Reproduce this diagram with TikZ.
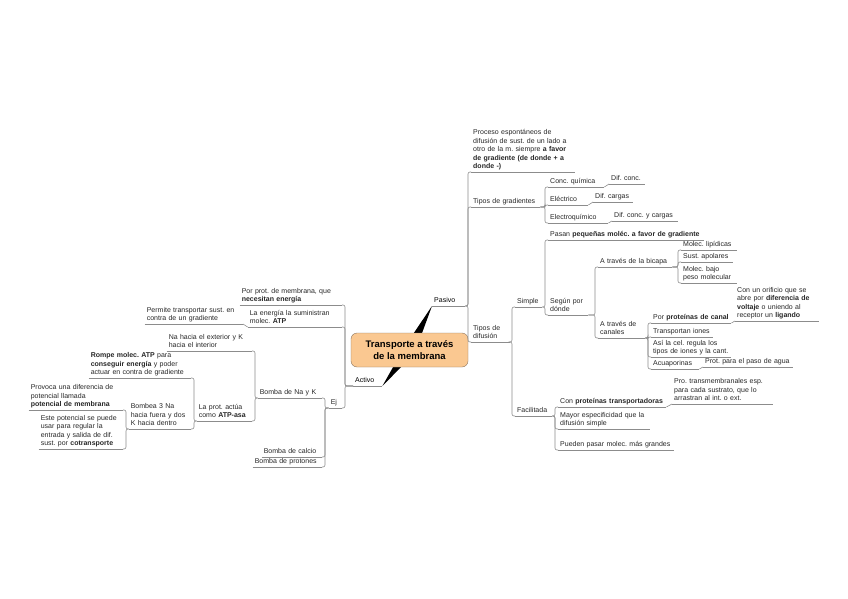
\documentclass[tikz,border=0pt]{standalone}
\usepackage{fontspec}
\setmainfont{Liberation Sans}
\usetikzlibrary{calc}
\definecolor{linegray}{HTML}{8C8C8C}
\definecolor{textgray}{HTML}{262626}
\definecolor{rootfill}{HTML}{FAC891}
\definecolor{rootline}{HTML}{8A7560}
\frenchspacing

\begin{document}
\begin{tikzpicture}[
  x=1pt, y=-1pt,
  topic/.style={anchor=south west, inner xsep=2pt, inner ysep=0.8pt, execute at end node={\strut},
                align=left, font=\fontsize{7}{8.4}\selectfont, text=textgray},
  ltopic/.style={topic, anchor=south east},
  root/.style={rectangle, rounded corners=6pt, draw=rootline, fill=rootfill, thin,
               minimum width=117pt, minimum height=34pt, align=center,
               font=\fontsize{9.5}{11.5}\selectfont\bfseries, text=black},
  link/.style={draw=linegray, line width=0.6pt, rounded corners=2pt},
  wedge/.style={fill=black}
]
  \useasboundingbox (0,0) rectangle (848,599);

  \node[topic, text width=29pt, text=black] (pasivo) at (432,306) {Pasivo};
  \node[topic, text width=25pt, text=black] (activo) at (353,386) {Activo};

  \fill[wedge] ($(409.5,350)+(-5.3,-2.7)$) -- ($(409.5,350)+(5.3,2.7)$) -- (pasivo.south west) -- cycle;
  \fill[wedge] ($(409.5,350)+(-4.8,-3.6)$) -- ($(409.5,350)+(4.8,3.6)$) -- (activo.south east) -- cycle;
  \node[root] (root) at (409.5,350) {Transporte a través\\de la membrana};

  \node[topic, text width=100pt] (proc) at (471,172) {Proceso espontáneos de\\difusión de sust. de un lado a\\otro de la m. siempre \textbf{a favor}\\\textbf{de gradiente (de donde + a}\\\textbf{donde -)}};
  \node[topic, text width=65pt] (tgrad) at (471,207) {Tipos de gradientes};
  \node[topic, text width=35pt] (tdif) at (471,342) {Tipos de\\difusión};

  \node[topic, text width=52pt] (concq) at (548,187) {Conc. química};
  \node[topic, text width=36pt] (elec) at (548,205) {Eléctrico};
  \node[topic, text width=56pt] (electroq) at (548,223) {Electroquímico};
  \node[topic, text width=32pt] (difconc) at (609,184) {Dif. conc.};
  \node[topic, text width=36pt] (difcarg) at (593,202) {Dif. cargas};
  \node[topic, text width=62pt] (difcc) at (612,221) {Dif. conc. y cargas};

  \node[topic, text width=23pt] (simple) at (515,307) {Simple};
  \node[topic, text width=33pt] (facil) at (515,416) {Facilitada};

  \node[topic, text width=152pt] (pasan) at (548,240) {Pasan \textbf{pequeñas moléc. a favor de gradiente}};
  \node[topic, text width=36pt] (segun) at (548,315) {Según por\\dónde};

  \node[topic, text width=70pt] (bicapa) at (598,267) {A través de la bicapa};
  \node[topic, text width=43pt] (canales) at (598,338) {A través de\\canales};

  \node[topic, text width=52pt] (lipid) at (681,250) {Molec. lipídicas};
  \node[topic, text width=48pt] (apol) at (681,262) {Sust. apolares};
  \node[topic, text width=52pt] (bajo) at (681,283) {Molec. bajo\\peso molecular};

  \node[topic, text width=76pt] (porprot) at (651,323) {Por \textbf{proteínas de canal}};
  \node[topic, text width=58pt] (transp) at (651,337) {Transportan iones};
  \node[topic, text width=76pt] (asi) at (651,357) {Así la cel. regula los\\tipos de iones y la cant.};
  \node[topic, text width=44pt] (acua) at (651,369) {Acuaporinas};
  \node[topic, text width=80pt] (orificio) at (735,321) {Con un orificio que se\\abre por \textbf{diferencia de}\\\textbf{voltaje} o uniendo al\\receptor un \textbf{ligando}};
  \node[topic, text width=86pt] (protagua) at (703,367) {Prot. para el paso de agua};

  \node[topic, text width=104pt] (conprot) at (558,407) {Con \textbf{proteínas transportadoras}};
  \node[topic, text width=88pt] (mayor) at (558,429) {Mayor especificidad que la\\difusión simple};
  \node[topic, text width=112pt] (pueden) at (558,450) {Pueden pasar molec. más grandes};
  \node[topic, text width=97pt] (transmem) at (672,404) {Pro. transmembranales esp.\\para cada sustrato, que lo\\arrastran al int. o ext.};

  \node[ltopic, text width=98pt] (necesitan) at (342,305) {Por prot. de membrana, que\\\textbf{necesitan energía}};
  \node[ltopic, text width=90pt] (energia) at (342,327) {La energía la suministran\\molec. \textbf{ATP}};
  \node[ltopic, text width=94pt] (permite) at (243,324) {Permite transportar sust. en\\contra de un gradiente};
  \node[ltopic, text width=9pt] (ej) at (342,408) {Ej};

  \node[ltopic, text width=60pt] (nak) at (322,398) {Bomba de Na y K};
  \node[ltopic, text width=56pt] (calcio) at (322,457) {Bomba de calcio};
  \node[ltopic, text width=65pt] (protones) at (322,467) {Bomba de protones};

  \node[ltopic, text width=81pt] (naext) at (252,351) {Na hacia el exterior y K\\hacia el interior};
  \node[ltopic, text width=51pt] (atpasa) at (252,421) {La prot. actúa\\como \textbf{ATP-asa}};
  \node[ltopic, text width=98pt] (rompe) at (191,378) {\textbf{Rompe molec. ATP} para\\\textbf{conseguir energía} y poder\\actuar en contra de gradiente};
  \node[ltopic, text width=58pt] (bombea) at (191,429) {Bombea 3 Na\\hacia fuera y dos\\K hacia dentro};
  \node[ltopic, text width=90pt] (provoca) at (123,410) {Provoca una diferencia de\\potencial llamada\\\textbf{potencial de membrana}};
  \node[ltopic, text width=80pt] (este) at (123,449) {Este potencial se puede\\usar para regular la\\entrada y salida de dif.\\sust. por \textbf{cotransporte}};

  \foreach \n in {pasivo, activo, proc, tgrad, tdif, concq, elec, electroq, difconc, difcarg, difcc,
                  simple, facil, pasan, segun, bicapa, canales, lipid, apol, bajo, porprot, transp,
                  asi, acua, orificio, protagua, conprot, mayor, pueden, transmem, necesitan,
                  energia, permite, ej, nak, calcio, protones, naext, atpasa, rompe, bombea,
                  provoca, este}
    \draw[link] (\n.south west) -- (\n.south east);

  \foreach \pa/\ch in {pasivo/proc, pasivo/tgrad, pasivo/tdif, tgrad/concq, tgrad/elec, tgrad/electroq,
                       tdif/simple, tdif/facil, simple/pasan, simple/segun, segun/bicapa, segun/canales,
                       bicapa/lipid, bicapa/apol, bicapa/bajo, canales/porprot, canales/transp,
                       canales/asi, canales/acua, facil/conprot, facil/mayor, facil/pueden}
    \draw[link] (\pa.south east) -| ($(\ch.south west)+(-3,0)$) -- (\ch.south west);

  \foreach \pa/\ch in {concq/difconc, elec/difcarg, electroq/difcc, porprot/orificio,
                       acua/protagua, conprot/transmem}
    \draw[link] (\pa.south east) -- (\ch.south west);

  \foreach \pa/\ch in {activo/necesitan, activo/energia, activo/ej, ej/nak, ej/calcio, ej/protones,
                       nak/naext, nak/atpasa, atpasa/rompe, atpasa/bombea, bombea/provoca, bombea/este}
    \draw[link] (\pa.south west) -| ($(\ch.south east)+(3,0)$) -- (\ch.south east);

  \draw[link] (energia.south west) -- (permite.south east);
\end{tikzpicture}
\end{document}
